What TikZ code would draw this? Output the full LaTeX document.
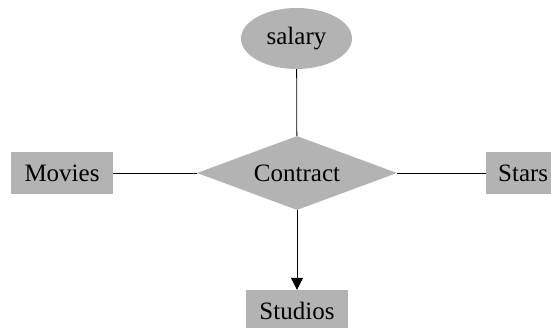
\documentclass[tikz,border=0pt]{standalone}
\usepackage{fontspec}
\setmainfont{Liberation Serif}
\usetikzlibrary{shapes.geometric,arrows.meta}
\definecolor{boxgray}{RGB}{179,179,179}
\tikzset{
  entity/.style={rectangle, fill=boxgray, minimum width=102pt, minimum height=42pt, inner sep=0pt, font=\fontsize{25}{30}\selectfont},
  attr/.style={ellipse, fill=boxgray, minimum width=111pt, minimum height=61pt, inner sep=0pt, font=\fontsize{25}{30}\selectfont},
  rel/.style={diamond, fill=boxgray, minimum width=200pt, minimum height=74pt, inner sep=0pt, aspect=2.7, font=\fontsize{25}{30}\selectfont},
  link/.style={draw=black, line width=0.8pt}
}
\begin{document}
\begin{tikzpicture}[x=1pt,y=-1pt]
\useasboundingbox (0,0) rectangle (551,328);
\clip (0,0) rectangle (551,328);
\node[attr] (salary) at (296.5,38.5) {salary};
\node[rel] (contract) at (297,173) {Contract};
\node[entity] (movies) at (62,173) {Movies};
\node[entity, minimum width=0pt, inner xsep=12pt, anchor=west] (stars) at (486,173) {Stars};
\node[entity] (studios) at (297,311) {Studios};
\draw[link] (salary) -- (contract);
\draw[link] (movies) -- (contract);
\draw[link] (contract) -- (stars);
\draw[link, -{Triangle[width=12pt,length=12pt]}] (contract) -- (studios);
\end{tikzpicture}
\end{document}
